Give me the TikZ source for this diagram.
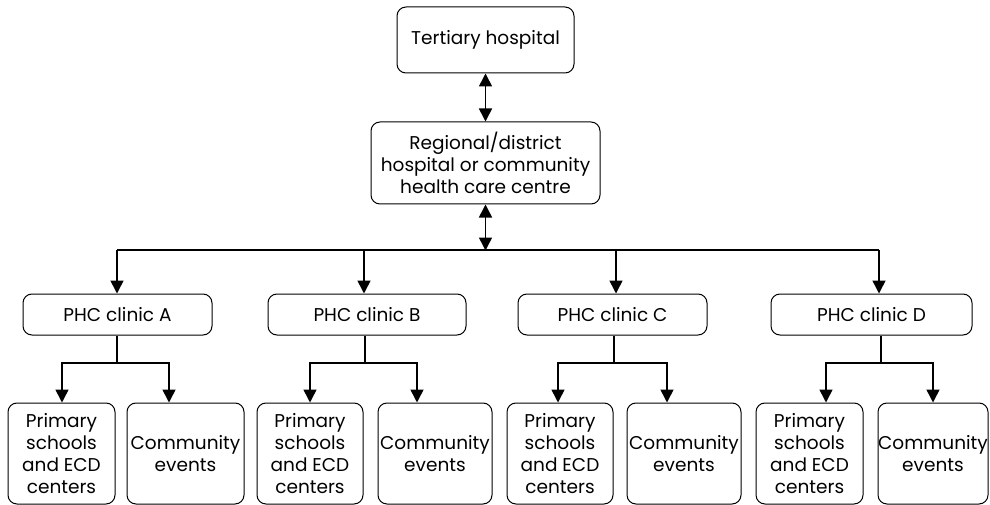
\documentclass[tikz,border=0pt]{standalone}
\usepackage{fontspec}
\setmainfont{Poppins}
\usetikzlibrary{arrows.meta,positioning}
\begin{document}
\begin{tikzpicture}[x=1pt,y=-1pt,>={Triangle[width=13pt,length=13pt]},
        box/.style={draw,line width=1pt,rounded corners=9pt,inner sep=0pt,align=center,
                font=\fontsize{18.5}{22}\selectfont},
        link/.style={line width=1.6pt}]
        \useasboundingbox (0,0) rectangle (990,505);

        % the two hospitals on top
        \node[box,minimum width=177pt,minimum height=66pt] (tert) at (485.5,40) {Tertiary hospital};
        \node[box,minimum width=229pt,minimum height=82pt] (reg) at (485.5,163)
                {Regional/district\\hospital or community\\health care centre};
        \draw[link,<->] (tert) -- (reg);
        \path (reg.south) ++(0,46) coordinate (bus);
        \draw[link,<->] (reg.south) -- (bus);

        % the clinics and what they reach
        \foreach \n/\cx/\w/\dx/\sx/\lx/\rx/\pc/\pw/\cc/\cw in {
            A/117.5/189/117/117/62/169/61.5/107/185.5/117,
            B/367/198/364/365/310/417/310/106/435/114,
            C/612.5/189/616/614/558/667/560/106/684/114,
            D/871.5/201/879/881/826/933/809.5/107/933/110} {
                \node[box,minimum width=\w pt,minimum height=41pt] (phc\n) at (\cx,314.5) {PHC clinic \n};
                \node[box,minimum width=\pw pt,minimum height=101pt] (school\n) at (\pc,453.5)
                        {Primary\\schools\\and ECD\\centers};
                \node[box,minimum width=\cw pt,minimum height=101pt] (event\n) at (\cc,453.5)
                        {Community\\events};
                % drop from the bus
                \coordinate (drop\n) at (\dx,250);
                \draw[link,->] (drop\n) -- (drop\n |- phc\n.north);
                % split below the clinic
                \coordinate (split\n) at (\sx,363);
                \coordinate (left\n) at (\lx,363);
                \coordinate (right\n) at (\rx,363);
                \draw[link] (split\n |- phc\n.south) -- (split\n);
                \draw[link,->] (split\n) -- (left\n) -- (left\n |- school\n.north);
                \draw[link,->] (split\n) -- (right\n) -- (right\n |- event\n.north);
        }

        % the bus line
        \draw[link] (dropA) -- (dropD);
\end{tikzpicture}
\end{document}
